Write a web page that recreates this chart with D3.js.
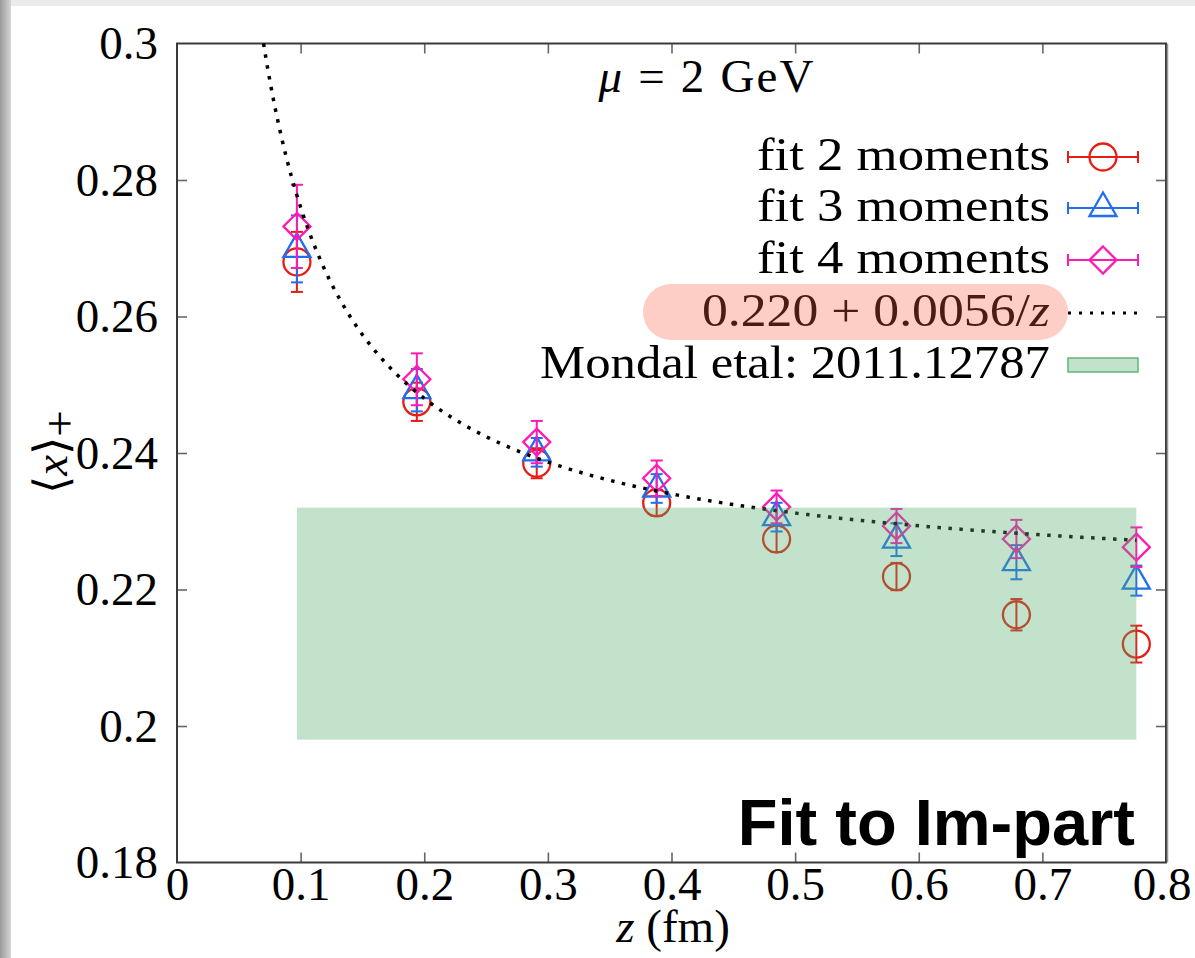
<!DOCTYPE html>
<html>
<head>
<meta charset="utf-8">
<script src="https://cdn.jsdelivr.net/npm/d3@7"></script>
<style>
  body { margin: 0; background: #fff; }
  svg { display: block; }
  text { font-family: "Liberation Serif", "Times New Roman", serif; fill: #000; }
</style>
</head>
<body>
<svg id="chart" width="1195" height="958"></svg>
<script>
// Lattice separations z (fm)
const zValues = [0.097, 0.194, 0.291, 0.388, 0.485, 0.582, 0.679, 0.776];

// <x>+ from fits with 2, 3 and 4 moments, with their errors
const fit2 = [0.2680, 0.2475, 0.2385, 0.2327, 0.2274, 0.2219, 0.2163, 0.2120];
const fit2Err = [0.0044, 0.0028, 0.0022, 0.0019, 0.0019, 0.0020, 0.0023, 0.0027];
const fit3 = [0.2699, 0.2492, 0.2401, 0.2348, 0.2306, 0.2273, 0.2240, 0.2213];
const fit3Err = [0.0049, 0.0031, 0.0021, 0.0021, 0.0021, 0.0024, 0.0025, 0.0022];
const fit4 = [0.2732, 0.2508, 0.2416, 0.2363, 0.2321, 0.2293, 0.2274, 0.2262];
const fit4Err = [0.0061, 0.0038, 0.0031, 0.0026, 0.0024, 0.0025, 0.0028, 0.0029];

// Curve a + b/z
const fitCoeffs = [0.220, 0.0056];
// Mondal et al. band (lower, upper)
const mondalBand = [0.198, 0.232];

// Axis ticks
const xTicks = [0, 0.1, 0.2, 0.3, 0.4, 0.5, 0.6, 0.7, 0.8];
const xTickLabels = ["0", "0.1", "0.2", "0.3", "0.4", "0.5", "0.6", "0.7", "0.8"];
const yTicks = [0.18, 0.2, 0.22, 0.24, 0.26, 0.28, 0.3];
const yTickLabels = ["0.18", "0.2", "0.22", "0.24", "0.26", "0.28", "0.3"];

const seriesNames = ["fit 2 moments", "fit 3 moments", "fit 4 moments"];
const seriesColors = ["#e81c14", "#1f6ef2", "#ff1ab4"];
const seriesShapes = ["circle", "triangle", "diamond"];

const svg = d3.select("#chart");
const W = 1195, H = 958;
const mLeft = 177, mRight = 1166, mTop = 43.5, mBottom = 862.5;

const x = d3.scaleLinear().domain([0, 0.8]).range([mLeft, mRight]);
const y = d3.scaleLinear().domain([0.18, 0.3]).range([mBottom, mTop]);

// page backdrop edges
const defs = svg.append("defs");
const grad = defs.append("linearGradient").attr("id", "edgeShade").attr("x1", 0).attr("x2", 1);
grad.append("stop").attr("offset", 0).attr("stop-color", "#9a9a9a");
grad.append("stop").attr("offset", 1).attr("stop-color", "#d6d6d6");
svg.append("rect").attr("x", 0).attr("y", 0).attr("width", W).attr("height", H).attr("fill", "#fff");
svg.append("rect").attr("x", 0).attr("y", 0).attr("width", W).attr("height", 6).attr("fill", "#ebebeb");
svg.append("rect").attr("x", 0).attr("y", 0).attr("width", 11).attr("height", H).attr("fill", "url(#edgeShade)");

// Axes with inward ticks on all four sides
const tickLen = 10;
const gx = svg.append("g").attr("transform", `translate(0,${mBottom})`)
  .call(d3.axisBottom(x).tickValues(xTicks).tickFormat((d, i) => xTickLabels[i])
    .tickSizeInner(-tickLen).tickSizeOuter(0).tickPadding(4));
const gxTop = svg.append("g").attr("transform", `translate(0,${mTop})`)
  .call(d3.axisTop(x).tickValues(xTicks.slice(1, -1)).tickFormat("")
    .tickSizeInner(-tickLen).tickSizeOuter(0));
const gy = svg.append("g").attr("transform", `translate(${mLeft},0)`)
  .call(d3.axisLeft(y).tickValues(yTicks).tickFormat((d, i) => yTickLabels[i])
    .tickSizeInner(-tickLen).tickSizeOuter(0).tickPadding(19));
const gyRight = svg.append("g").attr("transform", `translate(${mRight},0)`)
  .call(d3.axisRight(y).tickValues(yTicks.slice(1, -1)).tickFormat("")
    .tickSizeInner(-tickLen).tickSizeOuter(0));

[gx, gxTop, gy, gyRight].forEach(g => {
  g.select(".domain").remove();
  g.selectAll(".tick line").attr("stroke", "#666").attr("stroke-width", 1.6);
  g.selectAll(".tick text")
    .style("font-family", '"Liberation Serif", serif')
    .style("font-size", "47px").attr("fill", "#000");
});
gx.selectAll(".tick line").filter((d, i) => i === 0 || i === xTicks.length - 1).remove();
gy.selectAll(".tick line").filter((d, i) => i === 0 || i === yTicks.length - 1).remove();
// keep the last x label fully inside the page
gx.selectAll(".tick text").filter((d, i) => i === xTicks.length - 1)
  .attr("text-anchor", "end").attr("x", 25);

// Plot frame
svg.append("rect").attr("x", mLeft).attr("y", mTop)
  .attr("width", mRight - mLeft).attr("height", mBottom - mTop)
  .attr("fill", "none").attr("stroke", "#3a3a3a").attr("stroke-width", 2);
svg.append("line").attr("x1", mRight + 1.5).attr("x2", mRight + 1.5)
  .attr("y1", mTop).attr("y2", mBottom).attr("stroke", "#999").attr("stroke-width", 1.5);

// Marker shapes
function markerPath(shape) {
  if (shape === "triangle") return "M0,-15.5L13.5,8L-13.5,8Z";
  return "M0,-13.5L13.5,0L0,13.5L-13.5,0Z";
}
function drawMarker(g, shape, color) {
  if (shape === "circle") {
    g.append("circle").attr("r", 13.5).attr("fill", "none")
      .attr("stroke", color).attr("stroke-width", 2.3);
  } else {
    g.append("path").attr("d", markerPath(shape)).attr("fill", "none")
      .attr("stroke", color).attr("stroke-width", 2.3).attr("stroke-linejoin", "miter");
  }
}

const allSeries = [
  { values: fit2, errs: fit2Err },
  { values: fit3, errs: fit3Err },
  { values: fit4, errs: fit4Err }
];

const plot = svg.append("g");
const cap = 6;
allSeries.forEach((s, si) => {
  const color = seriesColors[si];
  const pts = zValues.map((z, i) => ({ z, v: s.values[i], e: s.errs[i] }));
  const g = plot.append("g");
  const pg = g.selectAll("g.pt").data(pts).join("g").attr("class", "pt")
    .attr("transform", d => `translate(${x(d.z)},0)`);
  pg.append("line").attr("x1", 0).attr("x2", 0)
    .attr("y1", d => y(d.v - d.e)).attr("y2", d => y(d.v + d.e))
    .attr("stroke", color).attr("stroke-width", 2);
  pg.append("line").attr("x1", -cap).attr("x2", cap)
    .attr("y1", d => y(d.v + d.e)).attr("y2", d => y(d.v + d.e))
    .attr("stroke", color).attr("stroke-width", 2);
  pg.append("line").attr("x1", -cap).attr("x2", cap)
    .attr("y1", d => y(d.v - d.e)).attr("y2", d => y(d.v - d.e))
    .attr("stroke", color).attr("stroke-width", 2);
  pg.each(function (d) {
    const mg = d3.select(this).append("g").attr("transform", `translate(0,${y(d.v)})`);
    drawMarker(mg, seriesShapes[si], color);
  });
});

// a + b/z curve, from where it enters the frame to the last z
const zStart = fitCoeffs[1] / (0.3 - fitCoeffs[0]);
const zEnd = zValues[zValues.length - 1];
const curveZ = d3.range(zStart, zEnd, 0.002).concat([zEnd]);
plot.append("path")
  .datum(curveZ)
  .attr("d", d3.line().x(z => x(z)).y(z => y(fitCoeffs[0] + fitCoeffs[1] / z)))
  .attr("fill", "none").attr("stroke", "#000").attr("stroke-width", 3.5)
  .attr("stroke-dasharray", "3.5,7.5");

// Mondal et al. band (translucent, drawn over the points)
const bandFill = "rgb(84,172,106)";
plot.append("rect")
  .attr("x", x(zValues[0])).attr("width", x(zValues[zValues.length - 1]) - x(zValues[0]))
  .attr("y", y(mondalBand[1])).attr("height", y(mondalBand[0]) - y(mondalBand[1]))
  .attr("fill", bandFill).attr("fill-opacity", 0.35);

// Legend
const legX1 = 1068, legX2 = 1138, legMid = 1103, textRight = 1050;
const rowY = [157, 208, 260, 313, 365];
const legendWidths = [293, 293, 293, 348, 510];
const lg = svg.append("g");
seriesNames.forEach((name, i) => {
  const yy = rowY[i];
  lg.append("text").attr("x", textRight).attr("y", yy + 13).attr("text-anchor", "end")
    .attr("font-size", 47).attr("textLength", legendWidths[i]).attr("lengthAdjust", "spacingAndGlyphs")
    .text(name);
  const c = seriesColors[i];
  lg.append("line").attr("x1", legX1).attr("x2", legX2).attr("y1", yy).attr("y2", yy)
    .attr("stroke", c).attr("stroke-width", 2);
  [legX1, legX2].forEach(xx => lg.append("line").attr("x1", xx).attr("x2", xx)
    .attr("y1", yy - 6).attr("y2", yy + 6).attr("stroke", c).attr("stroke-width", 2));
  const mg = lg.append("g").attr("transform", `translate(${legMid},${yy})`);
  drawMarker(mg, seriesShapes[i], c);
});

// curve entry
const fnText = lg.append("text").attr("x", textRight).attr("y", rowY[3] + 13).attr("text-anchor", "end")
  .attr("font-size", 47).attr("textLength", legendWidths[3]).attr("lengthAdjust", "spacingAndGlyphs");
fnText.append("tspan").text(`${fitCoeffs[0].toFixed(3)} + ${fitCoeffs[1].toFixed(4)}/`);
fnText.append("tspan").attr("font-style", "italic").text("z");
lg.append("line").attr("x1", legX1).attr("x2", legX2).attr("y1", rowY[3]).attr("y2", rowY[3])
  .attr("stroke", "#000").attr("stroke-width", 3).attr("stroke-dasharray", "3,8");

// band entry
lg.append("text").attr("x", textRight).attr("y", rowY[4] + 13).attr("text-anchor", "end")
  .attr("font-size", 47).attr("textLength", legendWidths[4]).attr("lengthAdjust", "spacingAndGlyphs")
  .text("Mondal etal:  2011.12787");
lg.append("rect").attr("x", legX1).attr("y", rowY[4] - 7).attr("width", legX2 - legX1).attr("height", 14)
  .attr("fill", bandFill).attr("fill-opacity", 0.35)
  .attr("stroke", "#5cb87a").attr("stroke-width", 1.5);

// highlight over the curve entry
svg.append("rect").attr("x", 643).attr("y", 284).attr("width", 425).attr("height", 56)
  .attr("rx", 28).attr("ry", 28)
  .attr("fill", "rgb(247,93,67)").attr("fill-opacity", 0.3);

// scale label
const mu = svg.append("text").attr("x", 706).attr("y", 92).attr("text-anchor", "middle").attr("font-size", 47)
  .attr("textLength", 215).attr("lengthAdjust", "spacing");
mu.append("tspan").attr("font-style", "italic").text("μ");
mu.append("tspan").text(" = 2 GeV");

// axis titles
const xt = svg.append("text").attr("x", 673).attr("y", 942).attr("text-anchor", "middle").attr("font-size", 47);
xt.append("tspan").attr("font-style", "italic").text("z");
xt.append("tspan").text(" (fm)");

const yt = svg.append("text").attr("transform", "translate(67,452) rotate(-90)")
  .attr("text-anchor", "middle").attr("font-size", 47);
yt.append("tspan").text("⟨");
yt.append("tspan").attr("font-style", "italic").text("x");
yt.append("tspan").text("⟩");
yt.append("tspan").attr("dy", 8).text("+");

// panel label
svg.append("text").attr("x", 1135).attr("y", 845).attr("text-anchor", "end")
  .style("font-family", '"Liberation Sans", Arial, sans-serif')
  .attr("font-weight", "bold").attr("font-size", 65).text("Fit to Im-part");
</script>
</body>
</html>
